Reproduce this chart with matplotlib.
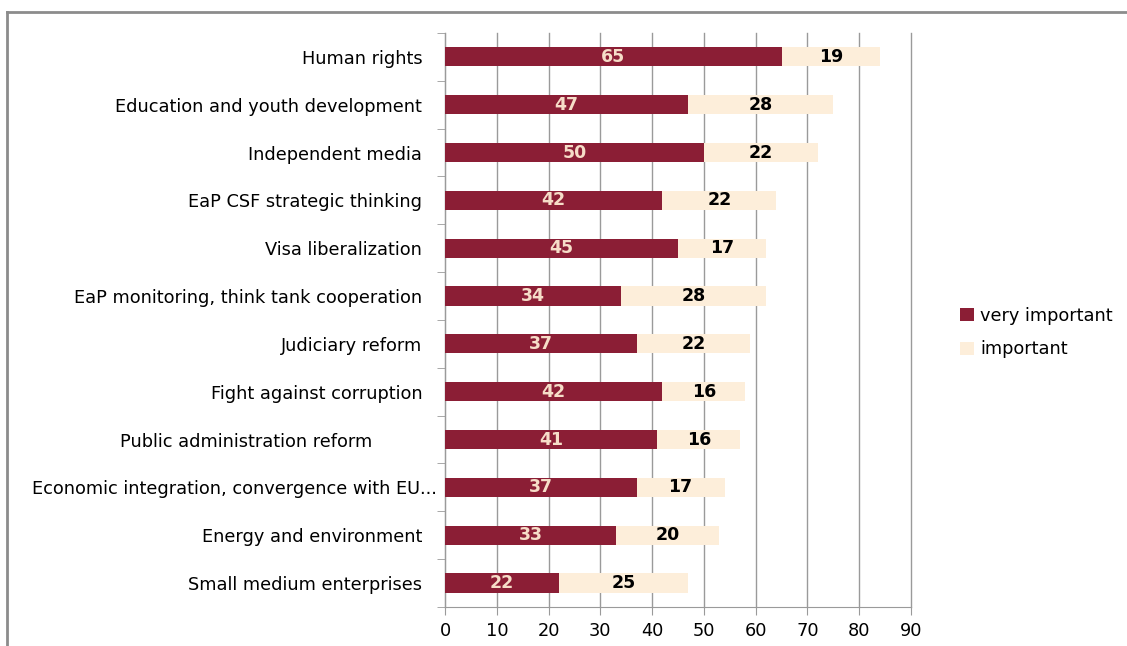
import matplotlib.pyplot as plt
import matplotlib.transforms as mtransforms
from matplotlib.lines import Line2D
import numpy as np

plt.rcParams['font.family'] = ['DejaVu Sans']

# categories, top to bottom as in the chart
categories = [
    "Human rights",
    "Education and youth development",
    "Independent media",
    "EaP CSF strategic thinking",
    "Visa liberalization",
    "EaP monitoring, think tank cooperation",
    "Judiciary reform",
    "Fight against corruption",
    "Public administration reform",
    "Economic integration, convergence with EU...",
    "Energy and environment",
    "Small medium enterprises",
]
very_important = [65, 47, 50, 42, 45, 34, 37, 42, 41, 37, 33, 22]
important = [19, 28, 22, 22, 17, 28, 22, 16, 16, 17, 20, 25]
x_ticks = [0, 10, 20, 30, 40, 50, 60, 70, 80, 90]

dark = "#8B1E35"
light = "#FDEEDA"
grey = "#9A9A9A"

fig = plt.figure(figsize=(11.27, 6.46), dpi=100)
ax = fig.add_axes([0.3949, 0.0604, 0.8083 - 0.3949, 0.949 - 0.0604])

# outer frame (only top and left edges visible in the original)
fig.add_artist(Line2D([0.0062, 1.0], [0.981, 0.981], transform=fig.transFigure,
                      color="#8C8C8C", linewidth=2))
fig.add_artist(Line2D([0.0062, 0.0062], [0.0, 0.981], transform=fig.transFigure,
                      color="#8C8C8C", linewidth=2))

y = np.arange(len(categories))[::-1]
h = 0.4
b1 = ax.barh(y, very_important, height=h, color=dark, label="very important", zorder=3)
b2 = ax.barh(y, important, height=h, left=very_important, color=light,
             label="important", zorder=3)

for yi, v, w in zip(y, very_important, important):
    ax.text(v / 2, yi, str(v), ha="center", va="center", color="#F6DDC8",
            fontsize=12.5, fontweight="bold", zorder=4)
    ax.text(v + w / 2, yi, str(w), ha="center", va="center", color="black",
            fontsize=12.5, fontweight="bold", zorder=4)

ax.set_xlim(0, 90)
ax.set_ylim(-0.5, len(categories) - 0.5)
ax.set_xticks(x_ticks)
ax.tick_params(axis="x", labelsize=12.8, colors=grey, labelcolor="black",
               length=6, direction="out", pad=5)
ax.grid(axis="x", color=grey, linewidth=1, zorder=0)
for gl in ax.get_xgridlines():
    gl.set_clip_on(False)

ax.set_yticks(y)
ax.set_yticklabels(categories)
ax.set_yticks(np.arange(-0.5, len(categories), 1), minor=True)
ax.tick_params(axis="y", which="major", length=0, pad=16.5, labelsize=12.8)
ax.tick_params(axis="y", which="minor", length=6, color=grey, direction="out")

# nudge a couple of labels like the original
offsets = {"Public administration reform": -50, "Economic integration, convergence with EU...": 15}
for lab in ax.get_yticklabels():
    dx = offsets.get(lab.get_text(), 0)
    if dx:
        lab.set_transform(lab.get_transform() +
                          mtransforms.ScaledTranslation(dx / 100, 0, fig.dpi_scale_trans))

for s in ["top", "right"]:
    ax.spines[s].set_visible(False)
ax.spines["left"].set_color(grey)
ax.spines["bottom"].set_color(grey)

fig.legend(handles=[b1, b2], loc="center left", bbox_to_anchor=(0.838, 0.485),
           frameon=False, fontsize=12.8, handlelength=0.75, handleheight=0.75,
           handletextpad=0.35, labelspacing=0.85)

fig.savefig("out.png", dpi=100)
